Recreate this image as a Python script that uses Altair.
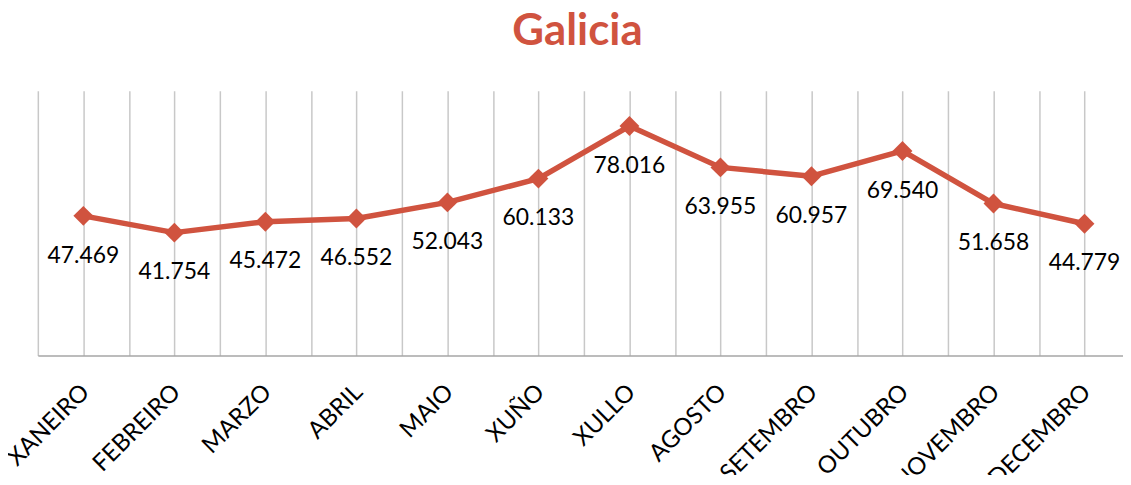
import json
import altair as alt
import pandas as pd

MONTHS = ["XANEIRO", "FEBREIRO", "MARZO", "ABRIL", "MAIO", "XUÑO",
          "XULLO", "AGOSTO", "SETEMBRO", "OUTUBRO", "NOVEMBRO", "DECEMBRO"]
VALUES = [47.469, 41.754, 45.472, 46.552, 52.043, 60.133,
          78.016, 63.955, 60.957, 69.540, 51.658, 44.779]

df = pd.DataFrame({"idx": list(range(len(MONTHS))), "mes": MONTHS, "valor": VALUES})

COLOR = "#D0533F"
FONT = "Lato"

grid_vals = [i / 2 for i in range(-1, 23)]  # -0.5 .. 11.0
label_expr = f"datum.value % 1 == 0 ? {json.dumps(MONTHS, ensure_ascii=False)}[datum.value] : ''"

x = alt.X(
    "idx:Q",
    scale=alt.Scale(domain=[-0.5, 11.423], nice=False, zero=False),
    axis=alt.Axis(
        title=None, values=grid_vals, labelExpr=label_expr,
        grid=True, gridColor="#C8C8C8", gridWidth=1.5,
        ticks=False, domain=True, domainColor="#A6A6A6", domainWidth=1.5,
        labelAngle=-45, labelAlign="right", labelBaseline="middle",
        labelFont=FONT, labelFontSize=24, labelColor="#000000",
        labelPadding=33, labelOffset=2, labelOverlap=False, labelFlush=False,
        labelBound=False,
    ),
)
y = alt.Y("valor:Q", scale=alt.Scale(domain=[0, 90], nice=False), axis=None)

base = alt.Chart(df).encode(x=x, y=y)

line = base.mark_line(color=COLOR, strokeWidth=5.5, strokeJoin="round")
points = base.mark_point(shape="diamond", size=400, filled=True, color=COLOR, opacity=1)
labels = base.mark_text(
    dy=40, baseline="middle", align="center", font=FONT, fontSize=23, color="#000000"
).encode(text=alt.Text("valor:Q", format=".3f"))

chart = (
    alt.layer(line, points, labels)
    .properties(
        width=1091, height=266,
        title=alt.TitleParams(
            "Galicia", font=FONT, fontSize=44, fontWeight="bold", color=COLOR,
            anchor="middle", offset=37, dx=-3,
        ),
        autosize=alt.AutoSizeParams(type="none"),
        padding={"left": 30, "top": 82, "right": 0, "bottom": 119},
        background="white",
    )
    .configure_view(stroke=None)
)

chart.save("out.html", embed_options={"renderer": "svg", "actions": False})
